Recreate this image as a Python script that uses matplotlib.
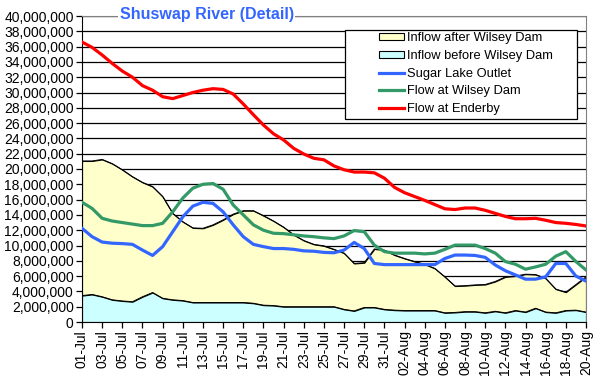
import numpy as np
import pandas as pd
import matplotlib
matplotlib.use("Agg")
import matplotlib.pyplot as plt
from matplotlib.patches import Rectangle
from matplotlib.ticker import FuncFormatter, MultipleLocator

plt.rcParams['font.family'] = ['Liberation Sans', 'DejaVu Sans']

# dates 01-Jul .. 20-Aug
dates = pd.date_range('2000-07-01', '2000-08-20', freq='D')
day_labels = [d.strftime('%d-%b') for d in dates]

# values in millions
inflow_after = [21.05, 21.05, 21.25, 20.7, 19.9, 19.0, 18.25, 17.7, 16.4, 14.2,
                13.1, 12.3, 12.25, 12.7, 13.35, 14.1, 14.55, 14.55, 13.9, 13.2,
                12.4, 11.4, 10.65, 10.15, 9.95, 9.5, 9.0, 7.65, 7.75, 9.55,
                9.4, 8.75, 8.3, 7.9, 7.55, 7.0, 5.9, 4.7, 4.75, 4.85,
                4.9, 5.3, 5.9, 6.0, 6.25, 6.2, 5.7, 4.3, 3.9, 4.9, 5.9]
inflow_before = [3.45, 3.6, 3.3, 2.9, 2.75, 2.65, 3.3, 3.85, 3.1, 2.9,
                 2.8, 2.55, 2.55, 2.55, 2.55, 2.55, 2.55, 2.45, 2.2, 2.15,
                 2.0, 2.0, 2.0, 2.0, 2.0, 2.0, 1.65, 1.45, 1.9, 1.9,
                 1.65, 1.55, 1.5, 1.5, 1.5, 1.5, 1.2, 1.25, 1.35, 1.35,
                 1.2, 1.4, 1.2, 1.5, 1.3, 1.8, 1.3, 1.2, 1.5, 1.55, 1.3]
sugar_lake = [12.25, 11.15, 10.45, 10.3, 10.25, 10.15, 9.4, 8.7, 9.85, 11.8,
              13.75, 15.15, 15.65, 15.5, 14.4, 12.7, 11.15, 10.15, 9.85, 9.6,
              9.6, 9.5, 9.3, 9.25, 9.1, 9.05, 9.4, 10.4, 9.6, 7.65,
              7.5, 7.5, 7.5, 7.5, 7.5, 7.5, 8.3, 8.75, 8.75, 8.7,
              8.45, 7.45, 6.7, 6.15, 5.6, 5.6, 5.9, 7.65, 7.65, 6.0, 5.35]
wilsey_dam = [15.65, 14.85, 13.55, 13.2, 13.0, 12.8, 12.6, 12.6, 12.9, 14.4,
              16.2, 17.5, 18.0, 18.1, 17.35, 15.3, 14.0, 12.7, 12.0, 11.6,
              11.55, 11.4, 11.25, 11.15, 11.0, 10.9, 11.25, 11.95, 11.8, 10.05,
              9.2, 9.0, 9.0, 9.0, 8.9, 9.0, 9.5, 10.05, 10.05, 10.05,
              9.6, 9.0, 7.9, 7.55, 6.9, 7.2, 7.55, 8.6, 9.2, 7.9, 6.8]
enderby = [36.6, 35.9, 34.9, 33.8, 32.8, 32.0, 30.9, 30.3, 29.45, 29.2,
           29.6, 30.0, 30.3, 30.5, 30.4, 29.8, 28.5, 27.1, 25.75, 24.6,
           23.8, 22.7, 21.96, 21.4, 21.2, 20.4, 19.9, 19.6, 19.6, 19.5,
           18.8, 17.6, 16.9, 16.4, 15.9, 15.35, 14.8, 14.7, 14.9, 14.9,
           14.6, 14.2, 13.8, 13.5, 13.5, 13.55, 13.3, 13.0, 12.9, 12.75, 12.55]

x = np.arange(len(dates))
m = 1e6

fig = plt.figure(figsize=(5.96, 3.76), dpi=100)
ax = fig.add_axes([82 / 596, 1 - 322 / 376, 504 / 596, 306 / 376])

ax.fill_between(x, 0, np.array(inflow_after) * m, facecolor='#FFFFCC',
                edgecolor='none', zorder=2, label='Inflow after Wilsey Dam')
ax.plot(x, np.array(inflow_after) * m, color='black', lw=0.7, zorder=2.1)
ax.fill_between(x, 0, np.array(inflow_before) * m, facecolor='#CCFFFF',
                edgecolor='none', zorder=2.2, label='Inflow before Wilsey Dam')
ax.plot(x, np.array(inflow_before) * m, color='black', lw=0.7, zorder=2.3)

ax.plot(x, np.array(sugar_lake) * m, color='#3366FF', lw=2.3, zorder=3,
        label='Sugar Lake Outlet')
ax.plot(x, np.array(wilsey_dam) * m, color='#339966', lw=2.3, zorder=3,
        label='Flow at Wilsey Dam')
ax.plot(x, np.array(enderby) * m, color='#FF0000', lw=2.3, zorder=3,
        label='Flow at Enderby')

ax.set_xlim(0, len(dates) - 1)
ax.set_ylim(0, 40e6)
ax.yaxis.set_major_locator(MultipleLocator(2e6))
ax.yaxis.set_major_formatter(FuncFormatter(lambda v, p: f'{v:,.0f}'))
ax.grid(axis='y', color='black', lw=0.9, zorder=1)
ax.set_axisbelow(True)

ax.set_xticks(x[::2])
ax.set_xticklabels(day_labels[::2], rotation=90)
ax.tick_params(axis='both', direction='out', length=4, width=0.9,
               labelsize=10, colors='black', pad=2)

for s in ['top', 'right']:
    ax.spines[s].set_color('#808080')
for s in ['left', 'bottom']:
    ax.spines[s].set_color('black')

ax.text(0.248, 1.005, 'Shuswap River (Detail)', transform=ax.transAxes,
        ha='center', va='center', fontsize=11.5, fontweight='bold',
        color='#3366FF', zorder=5,
        bbox=dict(facecolor='white', edgecolor='none', pad=1))

# legend box (Excel style: wide frame, entries offset to the right)
ax.add_patch(Rectangle(((345 - 82) / 504, (322 - 119) / 306), 232 / 504, 89 / 306,
                       transform=ax.transAxes, facecolor='white', edgecolor='black',
                       lw=0.9, zorder=5, clip_on=False))

handles, labels = ax.get_legend_handles_labels()
for h in handles[:2]:
    h.set_edgecolor('black')
    h.set_linewidth(0.8)
leg = ax.legend(handles, labels, loc='upper left',
                bbox_to_anchor=((379 - 82) / 504, (322 - 32.5) / 306),
                fontsize=9.3, frameon=False, handlelength=1.95, handleheight=0.47,
                labelspacing=0.43, borderpad=0, handletextpad=0.25,
                borderaxespad=0)
leg.set_zorder(6)

fig.savefig('out.png', dpi=100)
